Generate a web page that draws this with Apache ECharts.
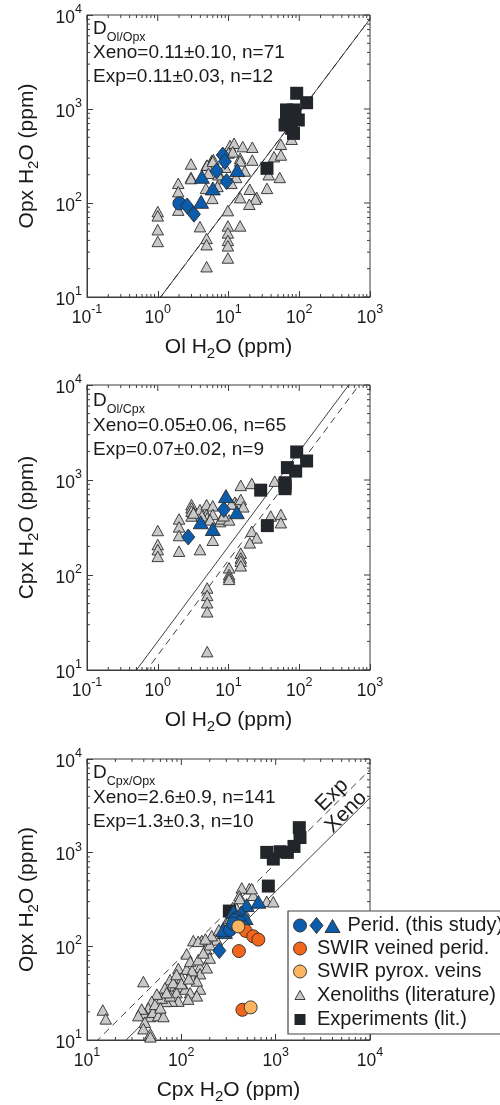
<!DOCTYPE html>
<html><head><meta charset="utf-8">
<script src="https://cdn.jsdelivr.net/npm/echarts@6/dist/echarts.min.js"></script>
<style>html,body{margin:0;padding:0;background:#fff}#c{width:500px;height:1105px}</style>
</head><body><div id="c"></div>
<script>
// ---------- Panel 1: Ol H2O (x) vs Opx H2O (y) ----------
const p1Xeno = [[1.0,81],[1.0,73],[1.0,52],[1.0,39],[1.95,162],[1.95,132],[1.95,84],
 [2.95,260],[2.95,187],[2.95,182],[3.95,56],[4.9,251],[5.8,283],[4.9,42],[4.9,36],[4.9,21],
 [5.9,112],[4.8,143],[5.0,253],[6.1,290],[5.2,207],[10.5,408],[12,432],[15.9,398],[21.7,392],
 [14.6,299],[14.6,280],[21.7,286],[17,219],[12.8,187],[11,162],[8,182],[6,277],[10,340],
 [11.5,350],[9,240],[7.2,200],[7,150],[20,140],[25,115],[24,110],[19.7,97],[14.6,114],
 [9.8,83],[9.8,57],[9.8,48],[9.8,40],[9.8,35],[9.8,26],[14.6,57],[35,143],[37,200],[53,187],
 [44,311],[55,324],[55,421],[78,477]];
const p1Circle = [[2.02,99]];
const p1Diamond = [[2.6,93],[3.25,76],[6.8,219],[8.3,324],[8.9,277],[9.4,169]];
const p1Triangle = [[4.1,103],[4.2,190],[6.0,143],[13.3,224]];
const p1Exp = [[127,1167],[92,1470],[66,977],[83,977],[97,764],[63,676],[78,623],[83,550],
 [74,795],[35,234],[66,830],[87,880]];
const p1XenoD = 0.11, p1ExpD = 0.11;

// ---------- Panel 2: Ol H2O (x) vs Cpx H2O (y) ----------
const p2Xeno = [[1.0,294],[1.0,209],[1.0,185],[1.0,157],[2.0,389],[2.0,321],[2.0,260],[2.0,178],
 [3.0,550],[3.0,509],[3.0,470],[3.0,418],[3.95,488],[3.95,185],[4.9,550],[4.9,434],[5.0,400],
 [6.0,535],[6.0,434],[6.0,232],[7.6,365],[7.9,390],[10.2,380],[12.3,585],[13,560],[14.9,624],
 [16.2,522],[14.9,877],[21.3,920],[45,973],[21.3,288],[25,246],[20,218],[14.9,170],[14.9,151],
 [14.9,140],[14.9,125],[10.2,119],[10.2,101],[10.2,95],[10.2,90],[5.0,73],[5.0,61],[5.0,51],
 [5.0,41],[5.0,15.6],[39.5,418],[55,434],[55,355],[8.5,420],[11,560],[4.2,420],[5.5,380],[3.2,450]];
const p2Diamond = [[2.7,251],[8.6,489]];
const p2Triangle = [[4.05,359],[6.0,305],[9.2,677],[13.1,458]];
const p2Exp = [[28.5,782],[35.4,331],[63,935],[63,810],[68,1350],[89,1240],[127,1585],[92,1973],[63,870]];
const p2XenoD = 0.05, p2ExpD = 0.07;

// ---------- Panel 3: Cpx H2O (x) vs Opx H2O (y) ----------
const p3Xeno = [[14.7,20.9],[15.8,16.8],[39.6,42],[114,83],[134,115],[164,115],[183,94],[200,75],
 [237,117],[93,58],[114,57],[134,46],[158,60],[158,51],[186,59],[76,44],[86,38],[93,37],[67,36],
 [89,32],[110,35],[124,32],[158,35],[146,29.6],[118,27.3],[93,26],[79,26],[69,25.8],[62,28],
 [55,30.9],[48.5,25.8],[44.7,21.9],[41,19.3],[38,21.4],[35,18.2],[46.6,17.8],[50,19.8],[57,18.2],
 [64.6,17.8],[41,15.5],[39.6,13.2],[47,11.7],[47,10.8],[52.6,24],[76,29.6],[82,41],[101,46],
 [146,42.7],[89,50],[124,69],[151,72],[171,85],[201,104],[525,413],[437,420],[412,346],[579,351],
 [804,302],[944,299],[557,413],[417,323],[386,254],[151,113],[280,160],[300,180],[330,200],
 [350,260],[460,240],[210,130],[180,120],[250,150],[70,32],[100,40],[130,55],[60,22],[120,45]];
const p3Circle = [[386,200],[372,191],[328,150],[420,180],[450,160],[356,175]];
const p3Diamond = [[253,90]];
const p3Triangle = [[290,142],[279,150],[493,276],[655,299],[356,234],[430,230],[480,200]];
const p3Veined = [[481,146],[579,128],[655,118],[408,89],[444,21]];
const p3Veins = [[402,163],[543,22.3]];
const p3Exp = [[323,238],[836,440],[804,1007],[944,855],[1111,1023],[1330,1007],[1564,1166],
 [1811,1450],[1780,1850]];
const p3XenoD = 2.6, p3ExpD = 1.3;

const FAM = '"Liberation Sans", Arial, Helvetica, sans-serif';
const f = s => s + 'px ' + FAM;
const BLUE = '#0b5cab', GRAY = '#c9c9c9', BLACK = '#222529', ORANGE = '#f2661c', LORANGE = '#fdb460';
const EDGE = '#2b2b2b', AX = '#3c3c3c', TXT = '#1a1a1a';

const grids = [
  {left: 87, top: 15, width: 283, height: 282},
  {left: 87, top: 385, width: 283, height: 285},
  {left: 87, top: 759, width: 283, height: 284}
];
const ext = [
  {x: [0.1, 1000], y: [10, 10000], xn: 'Ol H{b|2}O (ppm)', yn: 'Opx H{b|2}O (ppm)'},
  {x: [0.1, 1000], y: [10, 10000], xn: 'Ol H{b|2}O (ppm)', yn: 'Cpx H{b|2}O (ppm)'},
  {x: [10, 10000], y: [10, 10000], xn: 'Cpx H{b|2}O (ppm)', yn: 'Opx H{b|2}O (ppm)'}
];

function supLabel(v) { const e = Math.round(Math.log10(v)); return '{n|10}{s|' + e + '}'; }
const labelRich = {
  n: {fontFamily: FAM, fontSize: 17.5, color: TXT, lineHeight: 24, verticalAlign: 'bottom'},
  s: {fontFamily: FAM, fontSize: 12.5, color: TXT, lineHeight: 14, verticalAlign: 'top'}
};
const nameRich = {b: {fontFamily: FAM, fontSize: 15, color: TXT, lineHeight: 15, verticalAlign: 'bottom'}};

const xAxes = [], yAxes = [];
ext.forEach((e, i) => {
  xAxes.push({type: 'log', logBase: 10, gridIndex: i, min: e.x[0], max: e.x[1], name: e.xn,
    nameLocation: 'middle', nameGap: 36,
    nameTextStyle: {fontFamily: FAM, fontSize: 21, color: TXT, lineHeight: 28, rich: nameRich},
    axisLine: {show: true, onZero: false, lineStyle: {color: AX, width: 1}},
    axisTick: {show: true, inside: true, length: 6, lineStyle: {color: AX, width: 1}},
    axisLabel: {formatter: supLabel, margin: 6, fontFamily: FAM, fontSize: 17.5, color: TXT, rich: labelRich},
    splitLine: {show: false}});
  yAxes.push({type: 'log', logBase: 10, gridIndex: i, min: e.y[0], max: e.y[1], name: e.yn,
    nameLocation: 'middle', nameGap: 46,
    nameTextStyle: {fontFamily: FAM, fontSize: 21, color: TXT, lineHeight: 28, rich: nameRich},
    axisLine: {show: true, onZero: false, lineStyle: {color: AX, width: 1}},
    axisTick: {show: true, inside: true, length: 6, lineStyle: {color: AX, width: 1}},
    axisLabel: {formatter: supLabel, margin: 5, fontFamily: FAM, fontSize: 17.5, color: TXT, rich: labelRich},
    splitLine: {show: false}});
});

function decadeTicks(a, b) {
  const maj = [], min = [];
  const d0 = Math.round(Math.log10(a)), d1 = Math.round(Math.log10(b));
  for (let d = d0; d <= d1; d++) {
    maj.push(Math.pow(10, d));
    if (d < d1) for (let k = 2; k <= 9; k++) min.push(k * Math.pow(10, d));
  }
  return {maj, min};
}

function tickSeries(i) {
  const e = ext[i];
  const tx = decadeTicks(e.x[0], e.x[1]), ty = decadeTicks(e.y[0], e.y[1]);
  return {
    type: 'custom', xAxisIndex: i, yAxisIndex: i, silent: true, clip: false, z: 1,
    data: [[e.x[0], e.y[0]]],
    renderItem: function (params, api) {
      const lo = api.coord([e.x[0], e.y[0]]), hi = api.coord([e.x[1], e.y[1]]);
      const L = lo[0], R = hi[0], B = lo[1], T = hi[1];
      const ch = [];
      const ln = (x1, y1, x2, y2) => ch.push({type: 'line', shape: {x1, y1, x2, y2},
        style: {stroke: AX, lineWidth: 1}});
      tx.maj.forEach(v => { const p = api.coord([v, e.y[0]])[0]; ln(p, T, p, T + 6); });
      ty.maj.forEach(v => { const p = api.coord([e.x[0], v])[1]; ln(R, p, R - 6, p); });
      tx.min.forEach(v => { const p = api.coord([v, e.y[0]])[0]; ln(p, B, p, B - 3); ln(p, T, p, T + 3); });
      ty.min.forEach(v => { const p = api.coord([e.x[0], v])[1]; ln(L, p, L + 3, p); ln(R, p, R - 3, p); });
      return {type: 'group', children: ch};
    }
  };
}

function sc(i, data, symbol, size, color, border, z) {
  return {type: 'scatter', xAxisIndex: i, yAxisIndex: i, data: data, symbol: symbol, symbolSize: size,
    itemStyle: {color: color, borderColor: border || color, borderWidth: border ? 0.9 : 0, opacity: 1},
    z: z, silent: true, animation: false};
}
function dline(i, D, dashed) {
  const e = ext[i];
  // partition line: y = x / D
  const data = [[e.x[0], e.x[0] / D], [e.x[1], e.x[1] / D]];
  return {type: 'line', xAxisIndex: i, yAxisIndex: i, data: data, symbol: 'none', clip: true,
    lineStyle: {color: '#2a2a2a', width: 0.9, type: dashed ? [7, 5] : 'solid'}, z: 3, silent: true, animation: false};
}

const TRI = [11.5, 10.5], TRIB = [15, 13], DIA = [13, 16], SQ = 13, CIR = 13;
const series = [];
[0, 1, 2].forEach(i => series.push(tickSeries(i)));
series.push(dline(0, p1XenoD, false), dline(0, p1ExpD, true));
series.push(sc(0, p1Xeno, 'triangle', TRI, GRAY, EDGE, 4));
series.push(sc(0, p1Exp, 'rect', SQ, BLACK, null, 5));
series.push(sc(0, p1Circle, 'circle', CIR, BLUE, EDGE, 6));
series.push(sc(0, p1Diamond, 'diamond', DIA, BLUE, EDGE, 6));
series.push(sc(0, p1Triangle, 'triangle', TRIB, BLUE, EDGE, 6));
series.push(dline(1, p2XenoD, false), dline(1, p2ExpD, true));
series.push(sc(1, p2Xeno, 'triangle', TRI, GRAY, EDGE, 4));
series.push(sc(1, p2Exp, 'rect', SQ, BLACK, null, 5));
series.push(sc(1, p2Diamond, 'diamond', DIA, BLUE, EDGE, 6));
series.push(sc(1, p2Triangle, 'triangle', TRIB, BLUE, EDGE, 6));
series.push(dline(2, p3XenoD, false), dline(2, p3ExpD, true));
series.push(sc(2, p3Xeno, 'triangle', TRI, GRAY, EDGE, 4));
series.push(sc(2, p3Exp, 'rect', SQ, BLACK, null, 5));
series.push(sc(2, p3Triangle, 'triangle', TRIB, BLUE, EDGE, 6));
series.push(sc(2, p3Circle, 'circle', CIR, BLUE, EDGE, 6));
series.push(sc(2, p3Diamond, 'diamond', DIA, BLUE, EDGE, 6));
series.push(sc(2, p3Veined, 'circle', CIR, ORANGE, EDGE, 7));
series.push(sc(2, p3Veins, 'circle', CIR, LORANGE, EDGE, 8));

// annotation text
const annot = [
  {sub: 'Ol/Opx', lines: ['Xeno=0.11±0.10, n=71', 'Exp=0.11±0.03, n=12'], y: [29, 53, 77]},
  {sub: 'Ol/Cpx', lines: ['Xeno=0.05±0.06, n=65', 'Exp=0.07±0.02, n=9'], y: [401, 426, 450]},
  {sub: 'Cpx/Opx', lines: ['Xeno=2.6±0.9, n=141', 'Exp=1.3±0.3, n=10'], y: [773, 798, 822]}
];
const graphic = [];
annot.forEach(a => {
  graphic.push({type: 'text', x: 93, y: a.y[0], z: 20, style: {text: '{d|D}{s|' + a.sub + '}',
    verticalAlign: 'middle', font: f(19), rich: {
      d: {font: f(19), fill: TXT, lineHeight: 30, verticalAlign: 'middle'},
      s: {font: f(12.5), fill: TXT, lineHeight: 12, verticalAlign: 'bottom'}}}});
  a.lines.forEach((t, k) => graphic.push({type: 'text', x: 93, y: a.y[k + 1], z: 20,
    style: {text: t, font: f(19), fill: TXT, verticalAlign: 'middle'}}));
});
graphic.push({type: 'text', x: 332, y: 795, rotation: Math.PI / 4, z: 20,
  style: {text: 'Exp', font: f(21), fill: TXT, align: 'center', verticalAlign: 'middle'}});
graphic.push({type: 'text', x: 346, y: 812, rotation: Math.PI / 4, z: 20,
  style: {text: 'Xeno', font: f(21), fill: TXT, align: 'center', verticalAlign: 'middle'}});

// legend (drawn as graphic)
const legItems = ['Perid. (this study)', 'SWIR veined perid.', 'SWIR pyrox. veins', 'Xenoliths (literature)', 'Experiments (lit.)'];
const legY = [925.5, 948.5, 971.5, 995, 1019.5];
graphic.push({type: 'rect', shape: {x: 288, y: 911, width: 260, height: 123}, z: 30,
  style: {fill: '#fff', stroke: '#444', lineWidth: 1.2}});
const ed = {stroke: EDGE, lineWidth: 0.9};
function tri(cx, cy, w, h) { return [[cx - w / 2, cy + h / 2], [cx + w / 2, cy + h / 2], [cx, cy - h / 2]]; }
graphic.push({type: 'circle', shape: {cx: 300, cy: legY[0], r: 6.5}, z: 31, style: Object.assign({fill: BLUE}, ed)});
graphic.push({type: 'polygon', shape: {points: [[316.5, legY[0] - 8], [323, legY[0]], [316.5, legY[0] + 8], [310, legY[0]]]}, z: 31, style: Object.assign({fill: BLUE}, ed)});
graphic.push({type: 'polygon', shape: {points: tri(332.5, legY[0] + 0.5, 15, 13)}, z: 31, style: Object.assign({fill: BLUE}, ed)});
graphic.push({type: 'circle', shape: {cx: 300, cy: legY[1], r: 6.5}, z: 31, style: Object.assign({fill: ORANGE}, ed)});
graphic.push({type: 'circle', shape: {cx: 300, cy: legY[2], r: 6.5}, z: 31, style: Object.assign({fill: LORANGE}, ed)});
graphic.push({type: 'polygon', shape: {points: tri(300, legY[3], 10, 9)}, z: 31, style: Object.assign({fill: GRAY}, ed)});
graphic.push({type: 'rect', shape: {x: 294.5, y: legY[4] - 5.5, width: 11, height: 11}, z: 31, style: {fill: BLACK}});
legItems.forEach((t, k) => graphic.push({type: 'text', x: k === 0 ? 347.5 : 317, y: legY[k], z: 31,
  style: {text: t, font: f(20), fill: TXT, verticalAlign: 'middle'}}));

const chart = echarts.init(document.getElementById('c'), null, {renderer: 'canvas'});
chart.setOption({
  animation: false,
  backgroundColor: '#fff',
  grid: grids.map(g => Object.assign({show: true, borderColor: AX, borderWidth: 1, backgroundColor: '#fff'}, g)),
  xAxis: xAxes, yAxis: yAxes,
  series: series,
  graphic: graphic
});
</script></body></html>
